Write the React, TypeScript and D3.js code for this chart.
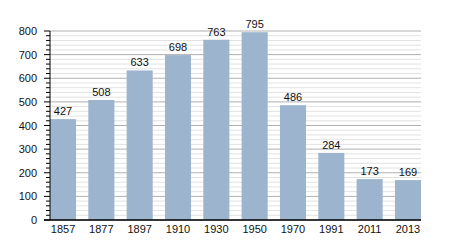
import React from "react";
import * as d3 from "d3";

const years = ["1857", "1877", "1897", "1910", "1930", "1950", "1970", "1991", "2011", "2013"];
const population = [427, 508, 633, 698, 763, 795, 486, 284, 173, 169];
const yTicks = [0, 100, 200, 300, 400, 500, 600, 700, 800];

export default function App() {
  const W = 450, H = 250;
  const left = 50, right = 421, top = 31, bottom = 220;
  const x = d3.scaleBand<string>().domain(years).range([left, right]).paddingInner(0.32).paddingOuter(0);
  const y = d3.scaleLinear().domain([0, 800]).range([bottom, top]);
  const minor = d3.range(0, 801, 20).filter((v) => v % 100 !== 0);
  const font = "'Liberation Sans', Arial, sans-serif";
  return (
    <svg width={W} height={H} style={{ position: "absolute", left: 0, top: 0 }} fontFamily={font}>
      <rect width={W} height={H} fill="#fff" />
      {minor.map((v) => (
        <line key={"m" + v} x1={left} x2={right} y1={y(v)} y2={y(v)} stroke="#e2e2e2" strokeWidth={1} />
      ))}
      {yTicks.map((v) => (
        <line key={"g" + v} x1={left} x2={right} y1={y(v)} y2={y(v)} stroke="#b0b0b0" strokeWidth={1} />
      ))}
      {years.map((yr, i) => (
        <rect key={yr} x={x(yr)} y={y(population[i])} width={x.bandwidth()} height={bottom - y(population[i])} fill="#9cb4cd" />
      ))}
      {years.map((yr, i) => (
        <text key={"v" + yr} x={(x(yr) as number) + x.bandwidth() / 2} y={y(population[i]) - 4} textAnchor="middle" fontSize={11} fill="#111">
          {population[i]}
        </text>
      ))}
      {years.map((yr) => (
        <text key={"x" + yr} x={(x(yr) as number) + x.bandwidth() / 2} y={bottom + 13} textAnchor="middle" fontSize={11} fill="#111">
          {yr}
        </text>
      ))}
      <line x1={left} x2={left} y1={top} y2={bottom} stroke="#000" strokeWidth={1} />
      {minor.map((v) => (
        <line key={"mt" + v} x1={left - 4} x2={left} y1={y(v)} y2={y(v)} stroke="#000" strokeWidth={1} />
      ))}
      {yTicks.map((v) => (
        <line key={"t" + v} x1={left - 6} x2={left} y1={y(v)} y2={y(v)} stroke="#000" strokeWidth={1} />
      ))}
      {yTicks.map((v) => (
        <text key={"yl" + v} x={37} y={y(v) + 4} textAnchor="end" fontSize={11} fill="#111">
          {v}
        </text>
      ))}
      <line x1={left - 6} x2={right} y1={bottom} y2={bottom} stroke="#000" strokeWidth={1.5} />
    </svg>
  );
}
